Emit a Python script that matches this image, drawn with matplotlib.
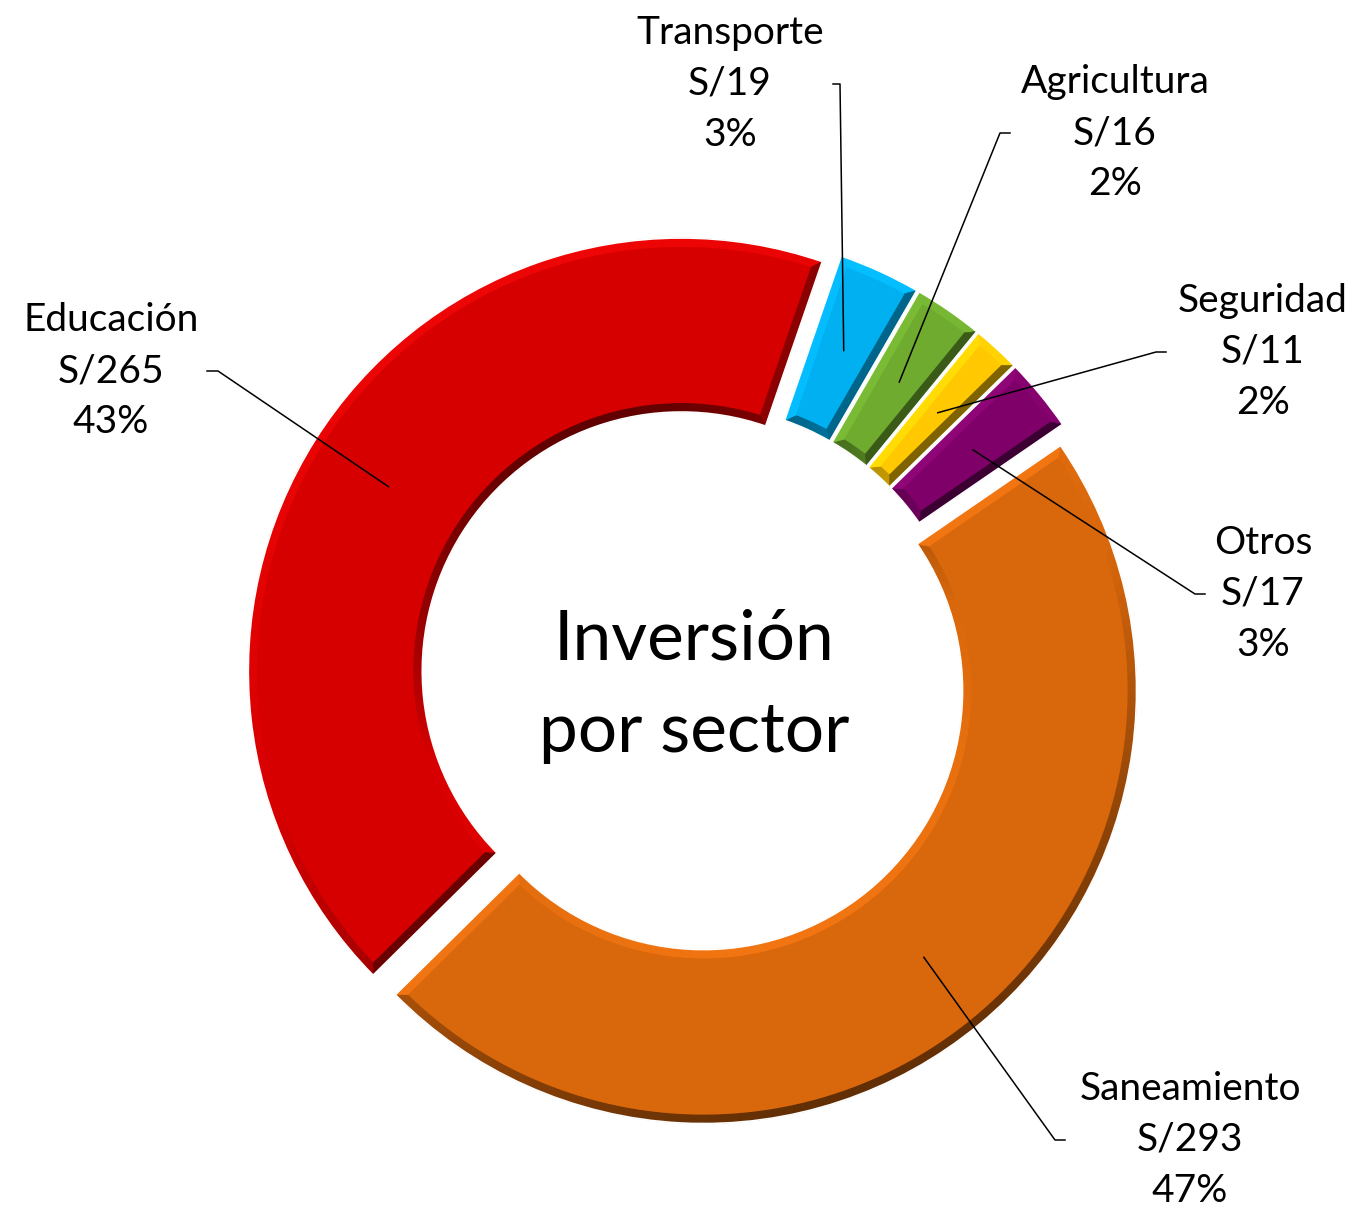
import numpy as np
import matplotlib
matplotlib.use("Agg")
import matplotlib.pyplot as plt
from matplotlib.patches import Wedge, Polygon
from matplotlib.colors import to_rgb

# Datos: inversión por sector (S/)
sectores = ["Transporte", "Agricultura", "Seguridad", "Otros", "Saneamiento", "Educación"]
montos = [19, 16, 11, 17, 293, 265]
porcentajes = ["3%", "2%", "2%", "3%", "47%", "43%"]
colores = ["#00B0F0", "#6EAB2E", "#FFC800", "#80006A", "#D9670B", "#D60000"]

# Posición de cada etiqueta en píxeles (centro x, y de la línea media, x de enganche, x del codo)
etiquetas_pos = [
    (730, 84, 833, 840),
    (1115, 133, 1010, 1000),
    (1263, 352, 1166, 1156),
    (1263, 594, 1205, 1195),
    (1190, 1140, 1065, 1055),
    (111, 371, 207, 218),
]

W, H = 1357, 1208
fig = plt.figure(figsize=(W / 100, H / 100), dpi=100)
ax = fig.add_axes([0, 0, 1, 1])

cx, cy = 694, H - 679
R, r_in = 433, 259
bisel = 9
luz = np.array([-0.35, 0.94])


def tono(col, k):
    c = np.array(to_rgb(col))
    if k >= 0:
        c = np.clip(c * (1 + 0.09 * k) + 0.02 * k, 0, 1)
    else:
        c = c * (1 - 0.55 * abs(k))
    return tuple(c)


def punto(c, rad, ang):
    a = np.radians(ang)
    return (c[0] + rad * np.cos(a), c[1] + rad * np.sin(a))


wedges, _ = ax.pie(montos, colors=colores, startangle=71, counterclock=False,
                   radius=R, center=(cx, cy), explode=[15] * len(montos),
                   wedgeprops=dict(width=R - r_in, linewidth=0))

# efecto de bisel sombreado según una luz desde arriba
for w, col in zip(wedges, colores):
    c, Ro = w.center, w.r
    ri = w.r - w.width
    t1, t2 = w.theta1, w.theta2
    do = np.degrees(np.arcsin(bisel / (Ro - bisel)))
    di = np.degrees(np.arcsin(bisel / (ri + bisel)))
    n = max(6, int((t2 - t1) / 1.5))
    s = np.linspace(0, 1, n + 1)
    # banda exterior e interior
    for rad, rad_b, dd, signo in [(Ro, Ro - bisel, do, 1), (ri, ri + bisel, di, -1)]:
        a_o = t1 + s * (t2 - t1)
        a_i = (t1 + dd) + s * (t2 - t1 - 2 * dd)
        for j in range(n):
            am = np.radians((a_o[j] + a_o[j + 1]) / 2)
            k = signo * np.dot([np.cos(am), np.sin(am)], luz)
            pts = [punto(c, rad, a_o[j]), punto(c, rad, a_o[j + 1]),
                   punto(c, rad_b, a_i[j + 1]), punto(c, rad_b, a_i[j])]
            ax.add_patch(Polygon(pts, closed=True, facecolor=tono(col, k),
                                 edgecolor=tono(col, k), lw=0.4))
    # bordes radiales
    for t, sg in [(t1, 1), (t2, -1)]:
        tr = np.radians(t)
        nrm = np.array([np.sin(tr), -np.cos(tr)]) * sg
        k = np.dot(nrm, luz)
        pts = [punto(c, Ro, t), punto(c, ri, t),
               punto(c, ri + bisel, t + sg * di), punto(c, Ro - bisel, t + sg * do)]
        ax.add_patch(Polygon(pts, closed=True, facecolor=tono(col, k),
                             edgecolor=tono(col, k), lw=0.4))
    # cara superior
    arco_o = np.linspace(t1 + do, t2 - do, n + 1)
    arco_i = np.linspace(t2 - di, t1 + di, n + 1)
    pts = [punto(c, Ro - bisel, a) for a in arco_o] + [punto(c, ri + bisel, a) for a in arco_i]
    ax.add_patch(Polygon(pts, closed=True, facecolor=col, edgecolor="none"))
    # borde blanco fino
    ax.add_patch(Wedge(c, Ro, t1, t2, width=w.width, facecolor="none",
                       edgecolor="white", lw=1.2))

# etiquetas con líneas guía
for w, nombre, monto, pct, (tx, ty, ax_x, codo_x) in zip(wedges, sectores, montos,
                                                       porcentajes, etiquetas_pos):
    tm = np.radians((w.theta1 + w.theta2) / 2)
    rm = w.r - w.width / 2
    px = w.center[0] + rm * np.cos(tm)
    py = w.center[1] + rm * np.sin(tm)
    ax.plot([px, codo_x, ax_x], [py, H - ty, H - ty], color="black", lw=1.1)
    ax.text(tx, H - ty, f"{nombre}\nS/{monto}\n{pct}", ha="center", va="center",
            fontsize=28, family="Lato", linespacing=1.52)

ax.text(cx, H - 686, "Inversión\npor sector", ha="center", va="center",
        fontsize=50, family="Lato", linespacing=1.58)

ax.set_xlim(0, W)
ax.set_ylim(0, H)
ax.set_aspect("equal")
ax.axis("off")

fig.savefig("out.png", dpi=100, facecolor="white")
